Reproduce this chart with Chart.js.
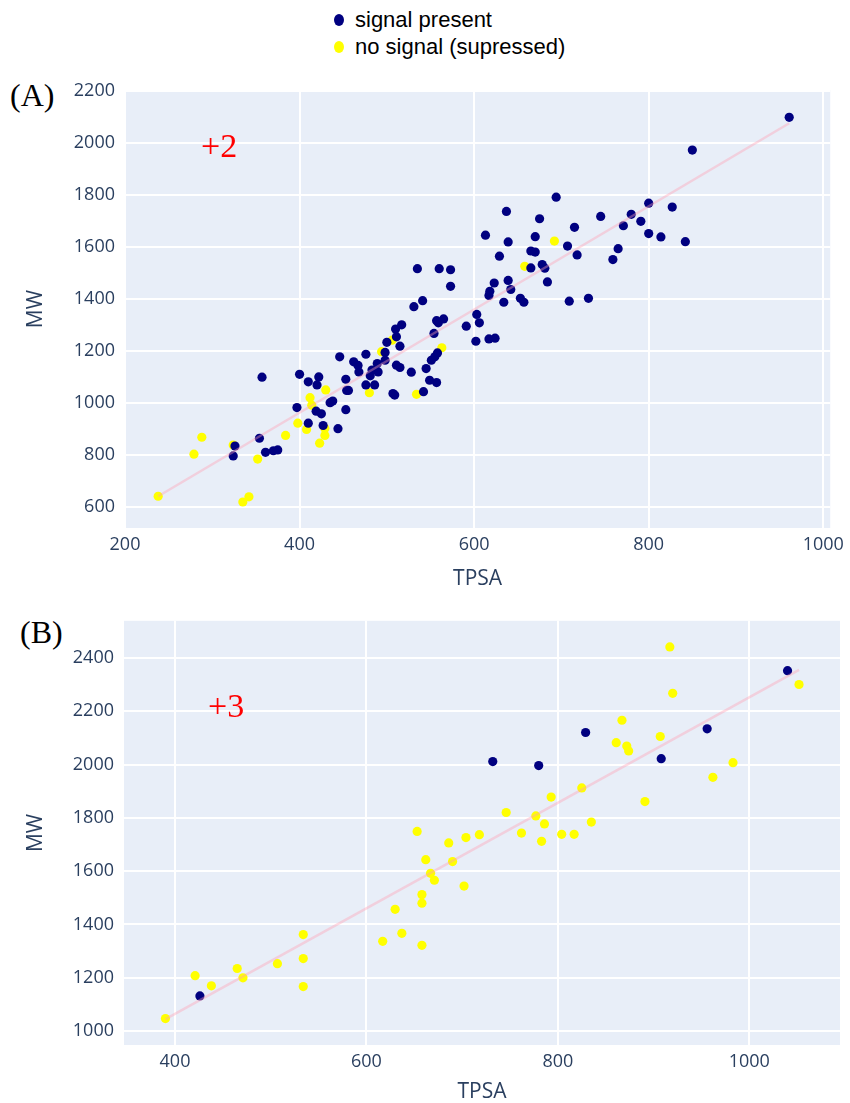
<!DOCTYPE html>
<html>
<head>
<meta charset="utf-8">
<script src="https://cdn.jsdelivr.net/npm/chart.js@4.4.1/dist/chart.umd.min.js"></script>
<style>
  body { margin: 0; background: #fff; width: 850px; height: 1103px; position: relative; overflow: hidden; }
  .abs { position: absolute; }
  #legend { left: 334px; top: 6px; font-family: "Liberation Sans", Arial, sans-serif; font-size: 22px; color: #000; }
  #legend div { display: flex; align-items: center; height: 27px; }
  #legend .dot { width: 10px; height: 12px; border-radius: 50%; margin-right: 11px; }
  .panel { font-family: "Liberation Serif", "Times New Roman", serif; font-size: 32px; line-height: 1; color: #000; }
  .note { font-family: "Liberation Serif", "Times New Roman", serif; font-size: 34px; line-height: 1; color: #ff0000; }
</style>
</head>
<body>
<div id="legend" class="abs">
  <div><span class="dot" style="background:#000080"></span>signal present</div>
  <div><span class="dot" style="background:#ffff00"></span>no signal (supressed)</div>
</div>
<div class="abs panel" style="left:10px;top:79px">(A)</div>
<div class="abs panel" style="left:20px;top:616px">(B)</div>
<canvas id="chartA" class="abs" style="left:0;top:60px" width="850" height="540"></canvas>
<canvas id="chartB" class="abs" style="left:0;top:600px" width="850" height="503"></canvas>
<div class="abs note" style="left:201px;top:129px">+2</div>
<div class="abs note" style="left:208px;top:689px">+3</div>
<script>
// panel A: charge +2   [TPSA, MW]
const presentA = [
  [961,2097],[850,1971],[694,1790],[800,1767],[827,1752],[637,1735],[745,1716],[780,1724],
  [675,1707],[715,1674],[771,1680],[791,1697],[613,1644],[670,1638],[639,1618],[707,1602],
  [800,1650],[814,1637],[842,1619],[629,1563],[665,1583],[670,1579],[718,1568],[765,1592],
  [759,1550],[665,1518],[678,1531],[681,1517],[684,1464],[623,1460],[639,1470],[618,1428],
  [617,1412],[642,1435],[634,1386],[653,1401],[657,1386],[709,1390],[731,1401],
  [573,1511],[573,1447],[603,1339],[606,1307],[591,1294],[602,1236],[617,1245],[624,1248],
  [535,1515],[560,1515],[541,1392],[531,1369],[565,1322],[557,1315],[559,1307],[554,1266],
  [558,1191],[555,1176],[551,1163],[545,1131],[549,1086],[557,1077],[542,1042],[528,1117],
  [517,1299],[510,1283],[511,1253],[500,1232],[515,1217],[498,1193],[498,1163],[489,1150],
  [511,1144],[515,1135],[476,1186],[446,1176],[462,1157],[467,1143],[468,1118],[483,1125],
  [481,1103],[490,1118],[476,1068],[486,1068],[507,1035],[509,1029],[453,1090],[454,1047],
  [456,1047],[453,973],[435,1000],[438,1006],[444,900],[400,1109],[410,1080],[422,1099],
  [420,1068],[397,981],[419,967],[425,957],[410,921],[427,912],
  [326,833],[324,795],[357,1098],[354,863],[361,809],[370,815],[375,818]
];
const absentA = [
  [692,1621],[658,1524],[563,1211],[534,1032],[506,1240],[494,1196],[480,1038],[430,1049],
  [412,1019],[414,990],[398,921],[429,901],[408,897],[429,874],[423,844],[384,874],
  [352,783],[335,618],[342,638],[238,640],[279,802],[288,867],[324,837]
];
const trendA = [[238,640],[961,2074]];
const xTicksA = [200, 400, 600, 800, 1000];
const yTicksA = [600, 800, 1000, 1200, 1400, 1600, 1800, 2000, 2200];

// panel B: charge +3
const presentB = [
  [426,1132],[732,2011],[780,1996],[829,2120],[908,2022],[956,2134],[1040,2352]
];
const absentB = [
  [390,1047],[421,1208],[438,1170],[465,1235],[471,1200],[507,1253],[534,1362],[534,1272],
  [534,1167],[617,1337],[637,1367],[630,1457],[658,1322],[658,1512],[658,1480],[702,1544],
  [671,1566],[667,1592],[662,1643],[690,1636],[653,1749],[686,1706],[704,1726],[718,1737],
  [746,1820],[777,1807],[786,1777],[835,1784],[762,1743],[783,1712],[804,1738],[817,1738],
  [793,1878],[825,1912],[891,1861],[861,2082],[872,2069],[874,2051],[867,2166],[907,2105],
  [962,1952],[983,2007],[920,2267],[917,2441],[1052,2300]
];
const trendB = [[390,1045],[1052,2355]];
const xTicksB = [400, 600, 800, 1000];
const yTicksB = [1000, 1200, 1400, 1600, 1800, 2000, 2200, 2400];

const plotBg = {
  id: 'plotBg',
  beforeDraw(chart) {
    const { ctx, chartArea: a } = chart;
    ctx.save();
    ctx.fillStyle = '#e8eef8';
    ctx.fillRect(a.left, a.top, a.right - a.left, a.bottom - a.top);
    ctx.restore();
  }
};

const toXY = arr => arr.map(([x, y]) => ({ x, y }));
const tickFont = { family: 'Open Sans', size: 18 };
const titleFont = { family: 'Open Sans', size: 21, lineHeight: 1 };

function makeChart(id, present, absent, trend, xTicks, yTicks, box) {
  new Chart(document.getElementById(id), {
    type: 'scatter',
    data: {
      datasets: [
        { label: 'signal present', data: toXY(present), backgroundColor: '#000080',
          pointRadius: 4.6, borderWidth: 0, order: 1 },
        { label: 'no signal (supressed)', data: toXY(absent), backgroundColor: '#ffff00',
          pointRadius: 4.6, borderWidth: 0, order: 2 },
        { type: 'line', label: 'trend', data: toXY(trend), borderColor: 'rgba(255,160,180,0.4)',
          borderWidth: 2.5, pointRadius: 0, order: 0 }
      ]
    },
    options: {
      responsive: false,
      animation: false,
      layout: { padding: { top: box.top, right: box.right, left: 0, bottom: 0 } },
      plugins: { legend: { display: false }, tooltip: { enabled: false } },
      scales: {
        x: {
          type: 'linear', min: box.xMin, max: box.xMax,
          afterBuildTicks: s => { s.ticks = xTicks.map(v => ({ value: v })); },
          afterFit: s => { s.height = box.xAxisH; },
          grid: { color: '#ffffff', lineWidth: 2, drawTicks: false },
          border: { display: false },
          ticks: { font: tickFont, color: '#2a3f5f', padding: 6, maxRotation: 0, autoSkip: false,
                   callback: v => String(v) },
          title: { display: true, text: 'TPSA', font: titleFont, color: '#2a3f5f',
                   padding: { top: 0, bottom: box.xTitlePad } }
        },
        y: {
          type: 'linear', min: box.yMin, max: box.yMax,
          afterBuildTicks: s => { s.ticks = yTicks.map(v => ({ value: v })); },
          afterFit: s => { s.width = box.yAxisW; },
          grid: { color: '#ffffff', lineWidth: 2, drawTicks: false },
          border: { display: false },
          ticks: { font: tickFont, color: '#2a3f5f', padding: 10, autoSkip: false,
                   callback: v => String(v) },
          title: { display: true, text: 'MW', font: titleFont, color: '#2a3f5f',
                   padding: { top: 26, bottom: 0 } }
        }
      }
    },
    plugins: [plotBg]
  });
}

makeChart('chartA', presentA, absentA, trendA, xTicksA, yTicksA,
  { top: 30, right: 17, xAxisH: 72, yAxisW: 125, xTitlePad: 10.5,
    xMin: 200, xMax: 1008, yMin: 518, yMax: 2202 });
makeChart('chartB', presentB, absentB, trendB, xTicksB, yTicksB,
  { top: 6, right: 10, xAxisH: 58, yAxisW: 124, xTitlePad: 0,
    xMin: 346.7, xMax: 1094.8, yMin: 948, yMax: 2539 });
</script>
</body>
</html>
